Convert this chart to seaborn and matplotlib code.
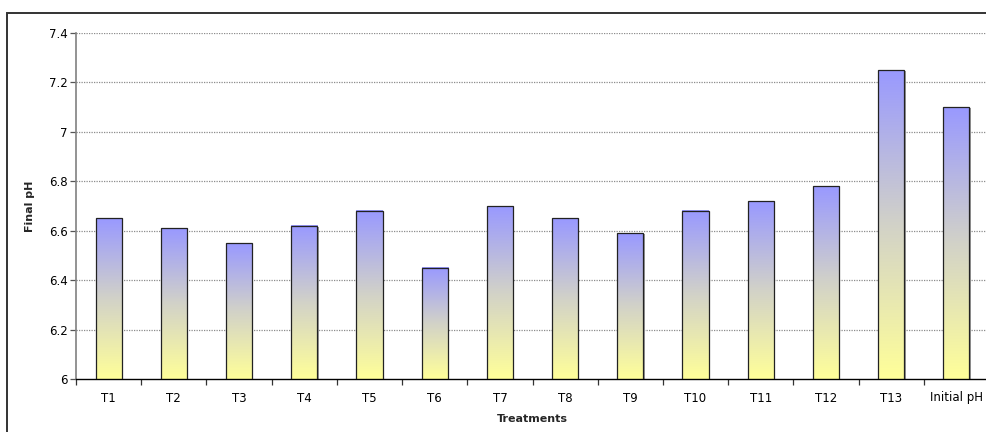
import numpy as np
import pandas as pd
import matplotlib
matplotlib.use("Agg")
import matplotlib.pyplot as plt
from matplotlib.colors import LinearSegmentedColormap
from matplotlib.patches import Rectangle
from matplotlib.ticker import FixedLocator
import seaborn as sns

treatments = ["T1", "T2", "T3", "T4", "T5", "T6", "T7", "T8", "T9", "T10",
              "T11", "T12", "T13", "Initial pH"]
final_ph = [6.65, 6.61, 6.55, 6.62, 6.68, 6.45, 6.70, 6.65, 6.59, 6.68,
            6.72, 6.78, 7.25, 7.10]
y_ticks = [6, 6.2, 6.4, 6.6, 6.8, 7, 7.2, 7.4]
y_tick_labels = ["6", "6.2", "6.4", "6.6", "6.8", "7", "7.2", "7.4"]

df = pd.DataFrame({"Treatments": treatments, "Final pH": final_ph})

sns.set_style("white")
plt.rcParams["font.family"] = ["DejaVu Sans"]

W, H = 986, 432
fig = plt.figure(figsize=(W / 100, H / 100), dpi=100)

# chart-area frame (right and bottom edges fall outside the canvas)
fig.patches.append(Rectangle((7 / W, -0.1), 1.2, 1 - 13 / H + 0.1,
                             transform=fig.transFigure, fill=False,
                             edgecolor="#333333", linewidth=1.4, zorder=0))

left, right, top, bottom = 76, 989, 33, 379
ax = fig.add_axes([left / W, 1 - bottom / H, (right - left) / W, (bottom - top) / H])

sns.barplot(data=df, x="Treatments", y="Final pH", width=0.4, ax=ax,
            color="#9999ff", edgecolor="#222222", linewidth=0.9, zorder=3)

# vertical yellow-to-blue fill inside every bar
cmap = LinearSegmentedColormap.from_list("ybl", ["#ffff99", "#d2d2c8", "#9999ff"])
grad = np.linspace(0, 1, 256).reshape(-1, 1)
for patch in ax.patches:
    x0 = patch.get_x()
    w = patch.get_width()
    top_v = patch.get_y() + patch.get_height()
    patch.set_facecolor("none")
    ax.imshow(grad, cmap=cmap, origin="lower", aspect="auto",
              extent=[x0, x0 + w, 6, top_v], zorder=2, interpolation="bilinear")
    # soft shadow on the right side of the bar
    ax.add_patch(Rectangle((x0 + w, 6), 0.02, top_v - 6 - 0.005,
                           facecolor="#9a9a9a", edgecolor="none", zorder=2))
ax.set_xlim(-0.5, len(treatments) - 0.5)
ax.set_ylim(6, 7.4)

# dotted horizontal gridlines
for v in y_ticks[1:]:
    ax.axhline(v, color="#8c8c8c", linewidth=0.9, linestyle=(0, (1, 1)), zorder=1)

ax.set_yticks(y_ticks)
ax.set_yticklabels(y_tick_labels)
ax.xaxis.set_minor_locator(FixedLocator(np.arange(-0.5, len(treatments), 1)))

for s in ["top", "right"]:
    ax.spines[s].set_visible(False)
ax.spines["left"].set_color("#808080")
ax.spines["left"].set_linewidth(1.2)
ax.spines["bottom"].set_color("#000000")
ax.spines["bottom"].set_linewidth(1.0)

ax.tick_params(axis="y", which="major", left=True, length=4, width=0.9,
               color="#555555", pad=2, labelsize=8.5, labelcolor="#000000")
ax.tick_params(axis="x", which="major", bottom=False, length=0, pad=9,
               labelsize=8.5, labelcolor="#000000")
ax.tick_params(axis="x", which="minor", bottom=True, length=4, width=0.9,
               color="#333333")

ax.set_xlabel("Treatments", fontsize=8, fontweight="bold", labelpad=7)
ax.set_ylabel("Final pH", fontsize=8, fontweight="bold", labelpad=10)

fig.savefig("out.png", dpi=100)
